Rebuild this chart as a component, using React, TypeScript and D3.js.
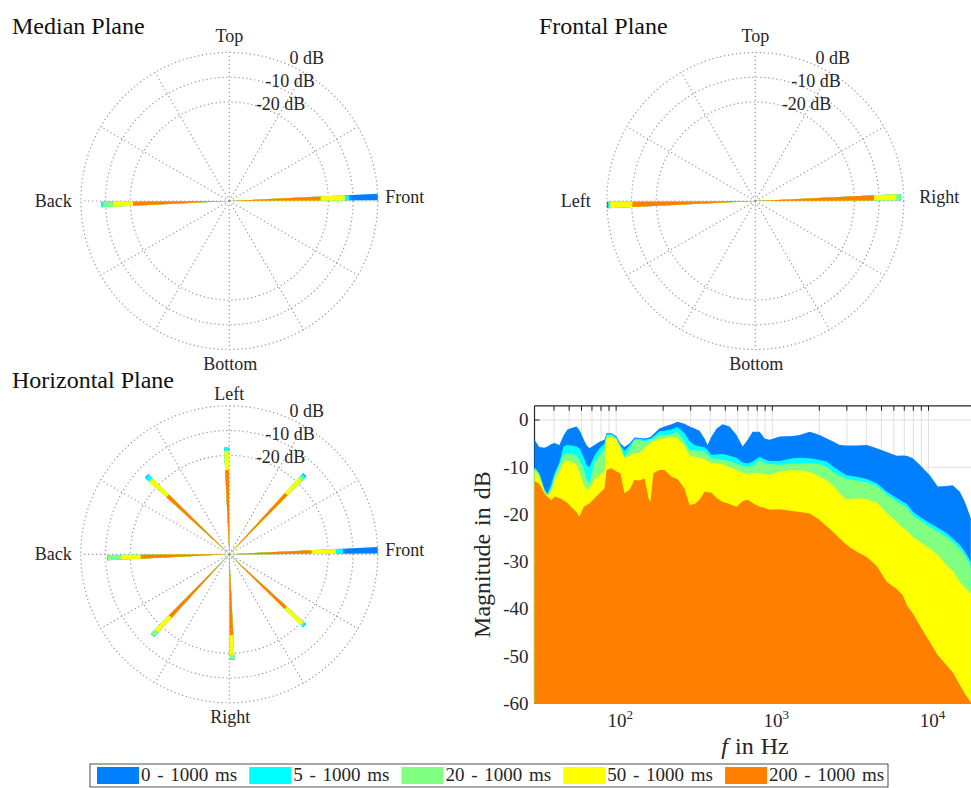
import { useEffect, useRef } from 'react';
import * as d3 from 'd3';

// energy windows
const windowLabels = ['0 - 1000 ms', '5 - 1000 ms', '20 - 1000 ms', '50 - 1000 ms', '200 - 1000 ms'];
const windowColors = ['#0080ff', '#00ffff', '#80ff80', '#ffff00', '#ff8000'];

// polar plots: direction in degrees, level per window in dB
const medianAngles = [0, 180];
const medianDb = [
  [0, -11.5, -13.2, -13.3, -23.1],
  [-8.3, -8.5, -9.0, -13.2, -21.1],
];
const frontalAngles = [0, 180];
const frontalDb = [
  [-1.1, -1.2, -1.3, -3.2, -12.0],
  [0, -0.5, -1.2, -1.3, -10.3],
];
const horizontalAngles = [0, 45, 90, 135, 180, 225, 270, 315];
const horizontalDb = [
  [0, -14.0, -16.8, -17.0, -26.7],
  [-15.6, -16.0, -17.0, -18.3, -26.5],
  [-16.8, -17.0, -18.0, -18.4, -25.9],
  [-13.9, -14.1, -16.0, -16.6, -25.7],
  [-10.6, -10.7, -10.8, -16.5, -24.2],
  [-14.9, -15.0, -15.1, -17.2, -25.3],
  [-17.3, -17.4, -17.5, -19.3, -27.4],
  [-18.1, -18.3, -19.0, -19.5, -28.6],
];
const rTicks = [-20, -10, 0];

// spectrum (frequency in Hz, magnitude in dB per window)
const freqHz = [
  30, 32.2, 34.7, 36.3, 38.5, 40.2, 43.3, 46, 48.8, 51.7, 55.7, 58.2, 61.7, 64.5, 67.4, 72.6, 78.2, 84.1, 86.7,
  93.3, 100.4, 106.5, 113, 121.7, 131, 141, 152, 161, 166, 173, 189, 204, 226, 247, 274, 295, 318, 342, 368, 385,
  408, 440, 480, 532, 590, 645, 695, 748, 829, 892, 961, 1114, 1350, 1496, 1734, 2010, 2229, 2435, 2700, 2995,
  3471, 4023, 4664, 5405, 6265, 6844, 7260, 7933, 8795, 10190, 11470, 13110, 14310, 15870, 17090, 18670,
];
const mag0 = [
  -4.2, -5.7, -5.9, -5.6, -5.1, -4.9, -5.3, -3.3, -2.0, -1.7, -1.4, -2.1, -4.0, -5.3, -6.0, -5.3, -4.6, -4.2, -2.8,
  -2.8, -3.5, -5.0, -5.7, -5.0, -3.7, -3.8, -3.9, -3.7, -3.6, -3.0, -1.8, -1.4, -0.9, -0.4, -0.8, -1.4, -1.8, -2.3,
  -3.9, -5.3, -3.5, -1.8, -0.9, -1.4, -3.2, -5.6, -4.2, -2.5, -2.5, -3.9, -4.2, -3.5, -3.4, -3.2, -2.5, -3.2, -3.9,
  -4.5, -5.3, -5.4, -5.4, -5.3, -6.0, -6.8, -7.6, -7.5, -7.6, -8.1, -9.5, -11.7, -14.1, -14.0, -13.8, -15.2, -17.3,
  -20.8,
];
const mag5 = [
  -10.0, -11.3, -14.5, -15.7, -13.5, -11.5, -9.0, -5.6, -5.3, -5.4, -5.6, -6.0, -7.8, -9.5, -10.0, -7.5, -6.0, -5.0,
  -3.0, -3.0, -3.7, -5.4, -6.5, -5.4, -4.0, -4.0, -4.2, -4.0, -3.9, -3.5, -2.4, -2.3, -2.0, -1.5, -2.8, -4.5, -5.3,
  -5.6, -5.8, -6.4, -7.4, -7.3, -7.2, -7.6, -8.0, -9.0, -9.2, -8.8, -7.8, -8.3, -8.7, -8.7, -8.1, -8.0, -8.1, -8.5,
  -8.8, -9.8, -10.8, -11.7, -12.0, -12.5, -13.4, -15.2, -16.5, -17.3, -17.8, -19.4, -20.5, -21.8, -22.8, -24.0,
  -25.1, -26.5, -27.8, -30.0,
];
const mag20 = [
  -10.2, -11.5, -15.0, -15.9, -14.5, -12.0, -9.5, -7.4, -7.1, -7.2, -7.6, -8.5, -10.0, -12.5, -13.5, -9.0, -7.4,
  -6.0, -3.3, -3.2, -3.9, -5.6, -7.8, -6.4, -4.2, -4.3, -4.6, -4.4, -4.2, -4.0, -3.2, -3.2, -3.0, -2.5, -4.5, -6.4,
  -6.4, -6.5, -6.7, -7.3, -8.1, -8.2, -8.4, -8.7, -9.2, -9.8, -9.9, -9.7, -8.5, -9.0, -9.3, -9.5, -9.2, -9.1, -9.1,
  -9.4, -9.9, -11.0, -11.8, -12.4, -12.8, -13.2, -14.0, -15.8, -17.2, -18.0, -18.5, -20.2, -21.2, -22.6, -23.6,
  -24.8, -25.8, -27.3, -28.6, -31.0,
];
const mag50 = [
  -10.6, -12.0, -15.2, -16.0, -15.0, -13.0, -10.9, -9.0, -8.7, -8.8, -9.5, -11.0, -13.5, -14.8, -14.5, -12.5,
  -11.7, -10.8, -3.9, -3.7, -4.2, -6.0, -8.1, -7.5, -7.1, -7.0, -6.0, -5.2, -5.0, -4.5, -3.9, -3.9, -3.5, -3.9,
  -5.5, -7.6, -7.8, -8.0, -8.3, -8.7, -9.2, -9.2, -9.4, -10.0, -10.6, -11.2, -11.5, -11.2, -11.3, -11.5, -11.6,
  -10.9, -10.6, -10.7, -11.0, -12.0, -12.8, -13.8, -15.5, -16.9, -16.6, -16.8, -17.5, -19.7, -21.6, -22.8, -23.4,
  -24.8, -25.8, -27.2, -28.6, -30.8, -32.0, -34.3, -35.5, -36.7,
];
const mag200 = [
  -12.9, -13.5, -15.5, -16.3, -17.0, -16.2, -16.5, -17.0, -17.6, -18.5, -19.5, -20.5, -18.5, -18.0, -17.7, -16.6,
  -15.5, -14.5, -10.6, -10.2, -10.9, -11.3, -15.5, -14.8, -12.7, -12.8, -12.4, -16.5, -17.3, -11.3, -10.6, -10.6,
  -12.0, -12.5, -14.5, -18.0, -17.8, -16.9, -15.2, -15.3, -15.4, -16.5, -17.3, -17.8, -18.4, -17.2, -16.9, -17.6,
  -18.4, -18.6, -19.0, -18.9, -19.3, -19.5, -19.8, -21.2, -22.5, -23.6, -25.1, -26.5, -27.9, -29.0, -30.9, -34.3,
  -35.8, -37.1, -39.2, -41.0, -43.5, -47.0, -49.8, -52.0, -53.5, -56.1, -58.0, -59.8,
];
const magnitudes = [mag0, mag5, mag20, mag50, mag200];

const FONT = 'Liberation Serif';
const INK = '#262626';
const GRID = '#969696';

const W = 971;
const H = 788;

function drawPolar(svg: any, opts: any) {
  const { cx, cy, R, title, titleX, titleY, labels, topGap, sideGapL, sideGapR, angles, db } = opts;
  const r = d3.scaleLinear().domain([-60, 0]).range([0, R]);
  const g = svg.append('g');

  g.append('text')
    .attr('x', titleX)
    .attr('y', titleY)
    .attr('font-size', 24)
    .attr('fill', '#111')
    .text(title);

  // rings
  rTicks.forEach((t) => {
    g.append('circle')
      .attr('cx', cx)
      .attr('cy', cy)
      .attr('r', r(t))
      .attr('fill', 'none')
      .attr('stroke', GRID)
      .attr('stroke-width', 1.2)
      .attr('stroke-dasharray', '1.2 2.8');
  });
  // spokes every 30 deg
  d3.range(0, 360, 30).forEach((a) => {
    const rad = (a * Math.PI) / 180;
    g.append('line')
      .attr('x1', cx)
      .attr('y1', cy)
      .attr('x2', cx + R * Math.cos(rad))
      .attr('y2', cy - R * Math.sin(rad))
      .attr('stroke', GRID)
      .attr('stroke-width', 1.2)
      .attr('stroke-dasharray', '1.2 2.8');
  });

  // wedges: one per direction, windows drawn from widest (blue) to narrowest (orange)
  const arc = d3.arc();
  const d0 = (0.3 * Math.PI) / 180;
  const d1 = (2.8 * Math.PI) / 180;
  angles.forEach((a: number, i: number) => {
    const th = (a * Math.PI) / 180;
    db[i].forEach((v: number, k: number) => {
      g.append('path')
        .attr('transform', 'translate(' + cx + ',' + cy + ')')
        .attr(
          'd',
          // @ts-ignore
          arc({
            innerRadius: 0,
            outerRadius: r(v),
            startAngle: Math.PI / 2 - th - d1,
            endAngle: Math.PI / 2 - th - d0,
          })
        )
        .attr('fill', windowColors[k]);
    });
  });

  // r tick labels
  const la = (68 * Math.PI) / 180;
  rTicks.forEach((t) => {
    g.append('text')
      .attr('x', cx + r(t) * Math.cos(la) + 39)
      .attr('y', cy - r(t) * Math.sin(la) + 0.5)
      .attr('text-anchor', 'end')
      .attr('font-size', 18)
      .attr('fill', INK)
      .text(t + ' dB');
  });

  // direction labels: right, top, left, bottom
  const lab = (x: number, y: number, anchor: string, s: string) =>
    g.append('text')
      .attr('x', x)
      .attr('y', y)
      .attr('text-anchor', anchor)
      .attr('font-size', 18)
      .attr('fill', INK)
      .text(s);
  lab(cx + R + sideGapR, cy + 2, 'start', labels[0]);
  lab(cx, cy - R - topGap, 'middle', labels[1]);
  lab(cx - R - sideGapL, cy + 5.5, 'end', labels[2]);
  lab(cx + 1, cy + R + 20, 'middle', labels[3]);
}

function drawSpectrum(svg: any) {
  const left = 534.5;
  const top = 405.8;
  const bottom = 703.3;
  const x = d3.scaleLog().domain([30, 20000]).range([left, 975.5]);
  const y = d3.scaleLinear().domain([-60, 3]).range([bottom, top]);
  const g = svg.append('g');

  const xt = x.ticks().filter((t: number) => t > 30 && t < 20000);
  const yt = d3.range(-60, 1, 10);

  // grid (below data)
  g.selectAll('.vg')
    .data(xt)
    .enter()
    .append('line')
    .attr('x1', (d: number) => x(d))
    .attr('x2', (d: number) => x(d))
    .attr('y1', top)
    .attr('y2', bottom)
    .attr('stroke', '#e0e0e0')
    .attr('stroke-width', 1);
  g.selectAll('.hg')
    .data(yt)
    .enter()
    .append('line')
    .attr('x1', left)
    .attr('x2', W)
    .attr('y1', (d: number) => y(d))
    .attr('y2', (d: number) => y(d))
    .attr('stroke', '#e0e0e0')
    .attr('stroke-width', 1);

  // axes box and ticks
  g.append('line').attr('x1', left).attr('x2', W).attr('y1', top).attr('y2', top).attr('stroke', INK).attr('stroke-width', 1.2);
  g.append('line').attr('x1', left).attr('x2', W).attr('y1', bottom).attr('y2', bottom).attr('stroke', INK);
  g.append('line').attr('x1', left).attr('x2', left).attr('y1', top).attr('y2', bottom).attr('stroke', INK).attr('stroke-width', 1.2);
  g.selectAll('.xt')
    .data(xt)
    .enter()
    .append('line')
    .attr('x1', (d: number) => x(d))
    .attr('x2', (d: number) => x(d))
    .attr('y1', top)
    .attr('y2', top + 5)
    .attr('stroke', INK);
  g.selectAll('.yt')
    .data(yt)
    .enter()
    .append('line')
    .attr('x1', left)
    .attr('x2', left + 5)
    .attr('y1', (d: number) => y(d))
    .attr('y2', (d: number) => y(d))
    .attr('stroke', INK);

  // stacked fills
  const area = d3
    .area()
    // @ts-ignore
    .x((d: any) => x(d[0]))
    .y0(bottom)
    // @ts-ignore
    .y1((d: any) => y(d[1]));
  magnitudes.forEach((m, k) => {
    const pts = freqHz.map((f, i) => [f, m[i]]);
    g.append('path')
      // @ts-ignore
      .attr('d', area(pts))
      .attr('fill', windowColors[k]);
  });

  // tick labels
  yt.forEach((t) => {
    g.append('text')
      .attr('x', 528.5)
      .attr('y', y(t))
      .attr('dy', '0.34em')
      .attr('text-anchor', 'end')
      .attr('font-size', 19)
      .attr('fill', INK)
      .text(t);
  });
  [100, 1000, 10000].forEach((t) => {
    const tx = g
      .append('text')
      .attr('x', x(t) + 4)
      .attr('y', 727)
      .attr('text-anchor', 'middle')
      .attr('font-size', 19)
      .attr('fill', INK);
    tx.append('tspan').text('10');
    tx.append('tspan').attr('dy', -8).attr('font-size', 13).text(String(Math.round(Math.log10(t))));
  });

  const xl = g
    .append('text')
    .attr('x', 755)
    .attr('y', 754)
    .attr('text-anchor', 'middle')
    .attr('font-size', 24)
    .attr('word-spacing', 1)
    .attr('fill', INK);
  xl.append('tspan').attr('font-style', 'italic').text('f');
  xl.append('tspan').text(' in Hz');

  g.append('text')
    .attr('transform', 'translate(490,' + (top + bottom) / 2 + ') rotate(-90)')
    .attr('text-anchor', 'middle')
    .attr('font-size', 24)
    .attr('word-spacing', 2)
    .attr('fill', INK)
    .text('Magnitude in dB');
}

function drawLegend(svg: any) {
  const g = svg.append('g');
  g.append('rect')
    .attr('x', 90)
    .attr('y', 764)
    .attr('width', 798)
    .attr('height', 23)
    .attr('fill', '#fff')
    .attr('stroke', INK)
    .attr('stroke-width', 0.8);
  let px = 97;
  windowLabels.forEach((s, k) => {
    g.append('rect').attr('x', px).attr('y', 767).attr('width', 42).attr('height', 17).attr('fill', windowColors[k]);
    const t = g
      .append('text')
      .attr('x', px + 44)
      .attr('y', 781)
      .attr('font-size', 19)
      .attr('word-spacing', 2)
      .attr('fill', INK)
      .text(s);
    px = px + 44 + t.node().getComputedTextLength() + 12;
  });
}

export default function App() {
  const ref = useRef<SVGSVGElement>(null);

  useEffect(() => {
    const svg = d3.select(ref.current);
    svg.selectAll('*').remove();

    drawPolar(svg, {
      cx: 229.3, cy: 201, R: 148.5, title: 'Median Plane', titleX: 12, titleY: 34,
      labels: ['Front', 'Top', 'Back', 'Bottom'], topGap: 10.5, sideGapL: 9, sideGapR: 7.5,
      angles: medianAngles, db: medianDb,
    });
    drawPolar(svg, {
      cx: 755.3, cy: 201, R: 148.5, title: 'Frontal Plane', titleX: 539, titleY: 33.5,
      labels: ['Right', 'Top', 'Left', 'Bottom'], topGap: 10.5, sideGapL: 16, sideGapR: 15.5,
      angles: frontalAngles, db: frontalDb,
    });
    drawPolar(svg, {
      cx: 229.3, cy: 554.3, R: 148.5, title: 'Horizontal Plane', titleX: 12, titleY: 387.5,
      labels: ['Front', 'Left', 'Back', 'Right'], topGap: 6, sideGapL: 9, sideGapR: 7.5,
      angles: horizontalAngles, db: horizontalDb,
    });
    drawSpectrum(svg);
    drawLegend(svg);
  }, []);

  return (
    <svg
      ref={ref}
      width={W}
      height={H}
      style={{ position: 'absolute', left: 0, top: 0, background: '#fff', fontFamily: FONT }}
    />
  );
}
